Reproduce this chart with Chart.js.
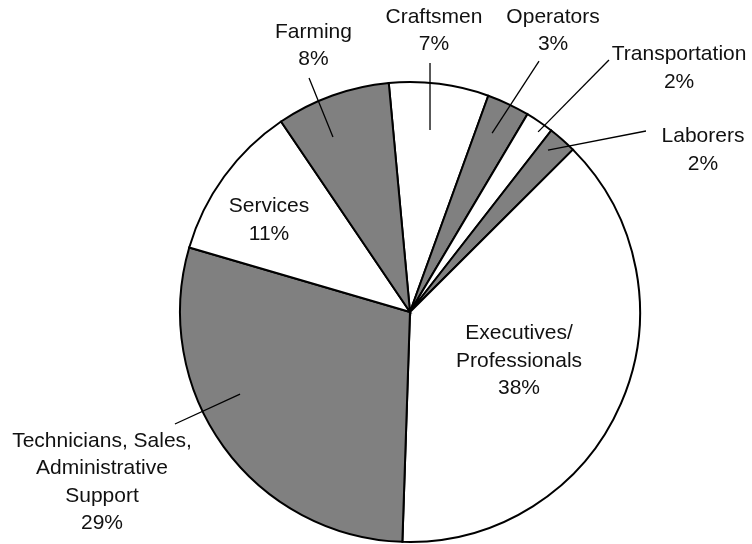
<!DOCTYPE html>
<html>
<head>
<meta charset="utf-8">
<script src="https://cdn.jsdelivr.net/npm/chart.js@4/dist/chart.umd.min.js"></script>
<style>
  html, body { margin: 0; padding: 0; background: #ffffff; }
  #wrap { width: 752px; height: 544px; }
</style>
</head>
<body>
<div id="wrap"><canvas id="c" width="752" height="544"></canvas></div>
<script>
// ---- data ----
const categories = ["Craftsmen", "Operators", "Transportation", "Laborers",
  "Executives/ Professionals", "Technicians, Sales, Administrative Support", "Services", "Farming"];
const shares = [7, 3, 2, 2, 38, 29, 11, 8];
const labelLines = [
  ["Craftsmen"], ["Operators"], ["Transportation"], ["Laborers"],
  ["Executives/", "Professionals"], ["Technicians, Sales,", "Administrative", "Support"],
  ["Services"], ["Farming"]
];

// ---- styling / label layout (fractions of radius, relative to pie centre) ----
const fills = ["#ffffff", "#808080", "#ffffff", "#808080", "#ffffff", "#808080", "#ffffff", "#808080"];
const labelLayout = [
  { text: [0.104, -1.222], lead: [[0.087, -0.791], [0.087, -1.083]] },
  { text: [0.622, -1.222], lead: [[0.357, -0.778], [0.561, -1.091]] },
  { text: [1.170, -1.061], lead: [[0.557, -0.783], [0.865, -1.096]] },
  { text: [1.274, -0.704], lead: [[0.600, -0.704], [1.026, -0.787]] },
  { text: [0.474, 0.213], lead: null },
  { text: [-1.339, 0.739], lead: [[-0.739, 0.357], [-1.022, 0.487]] },
  { text: [-0.613, -0.400], lead: null },
  { text: [-0.420, -1.157], lead: [[-0.335, -0.761], [-0.439, -1.017]] }
];
const FONT = '21px "Liberation Sans", Arial, sans-serif';
const LINE_H = 27.5;

const labelPlugin = {
  id: 'pieLabels',
  afterDraw(chart) {
    const ctx = chart.ctx;
    const meta = chart.getDatasetMeta(0);
    ctx.save();
    meta.data.forEach((arc, i) => {
      const cx = arc.x, cy = arc.y, R = arc.outerRadius;
      const lay = labelLayout[i];
      if (lay.lead) {
        ctx.beginPath();
        ctx.strokeStyle = '#000';
        ctx.lineWidth = 1.3;
        ctx.moveTo(cx + lay.lead[0][0] * R, cy + lay.lead[0][1] * R);
        ctx.lineTo(cx + lay.lead[1][0] * R, cy + lay.lead[1][1] * R);
        ctx.stroke();
      }
      const lines = labelLines[i].concat([shares[i] + '%']);
      const tx = cx + lay.text[0] * R;
      const ty = cy + lay.text[1] * R;
      ctx.font = FONT;
      ctx.fillStyle = '#111';
      ctx.textAlign = 'center';
      ctx.textBaseline = 'middle';
      const n = lines.length;
      lines.forEach((ln, k) => {
        ctx.fillText(ln, tx, ty + (k - (n - 1) / 2) * LINE_H);
      });
    });
    ctx.restore();
  }
};

new Chart(document.getElementById('c'), {
  type: 'pie',
  data: {
    labels: categories,
    datasets: [{
      data: shares,
      backgroundColor: fills,
      borderColor: '#000000',
      borderWidth: 2,
      borderJoinStyle: 'miter'
    }]
  },
  options: {
    responsive: false,
    animation: false,
    events: [],
    rotation: -5.3,
    layout: { padding: { top: 81, bottom: 1, left: 179, right: 111 } },
    plugins: {
      legend: { display: false },
      tooltip: { enabled: false },
      title: { display: false }
    }
  },
  plugins: [labelPlugin]
});
</script>
</body>
</html>
